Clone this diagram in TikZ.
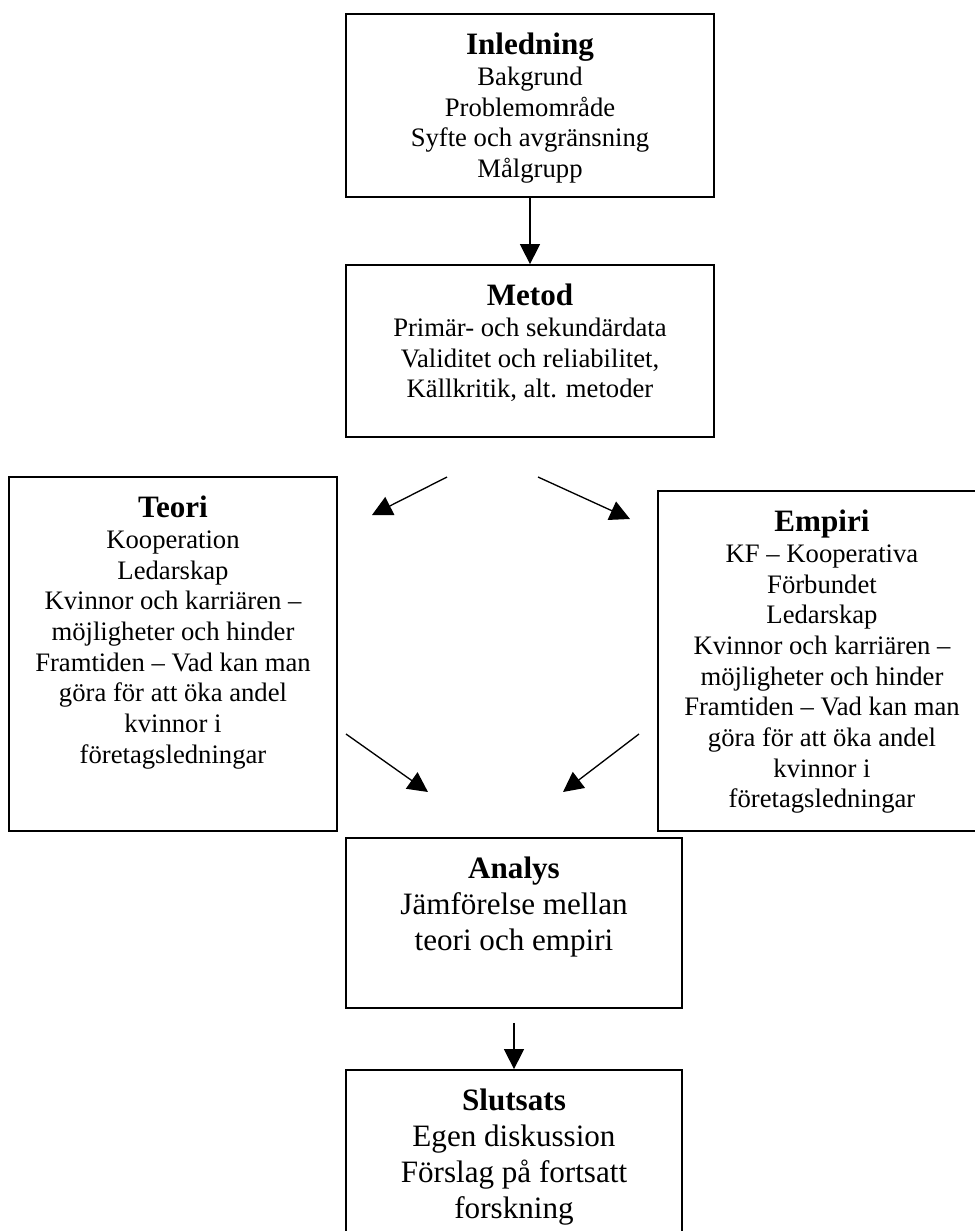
\documentclass[tikz,border=0pt]{standalone}
\usepackage{fontspec}
\setmainfont{Liberation Serif}
\usetikzlibrary{arrows.meta, positioning}

\begin{document}
\begin{tikzpicture}[
    x=0.45pt, y=-0.45pt,
    box/.style={draw, line width=0.8pt},
    txt/.style={align=center, inner sep=0pt, font=\fontsize{12}{13.8}\selectfont},
    bigtxt/.style={align=center, inner sep=0pt, font=\fontsize{14}{16.1}\selectfont},
    arrow/.style={-{Triangle[length=9pt, width=9pt]}, line width=0.6pt}
]
    \useasboundingbox (0,0) rectangle (975,1231);

    % boxes
    \node[box, minimum width=165.6pt, minimum height=82.35pt] (inl) at (530,105.5) {};
    \node[box, minimum width=165.6pt, minimum height=77.4pt] (met) at (530,351) {};
    \node[box, minimum width=147.6pt, minimum height=159.3pt] (teo) at (173,654) {};
    \node[box, minimum width=147.6pt, minimum height=153pt] (emp) at (822,661) {};
    \node[box, minimum width=151.2pt, minimum height=76.5pt] (ana) at (514,923) {};
    \node[box, minimum width=151.2pt, minimum height=85.5pt] (slu) at (514,1165) {};

    % texts
    \node[txt, below=8.8pt of inl.north] (inltext) {\textbf{\fontsize{14}{13.8}\selectfont Inledning}\\Bakgrund\\Problemområde\\Syfte och avgränsning\\Målgrupp};
    \node[txt, below=8.8pt of met.north] (mettext) {\textbf{\fontsize{14}{13.8}\selectfont Metod}\\Primär- och sekundärdata\\Validitet och reliabilitet,\\Källkritik, alt. metoder};
    \node[txt, below=8.8pt of teo.north] (teotext) {\textbf{\fontsize{14}{13.8}\selectfont Teori}\\Kooperation\\Ledarskap\\Kvinnor och karriären --\\möjligheter och hinder\\Framtiden -- Vad kan man\\göra för att öka andel\\kvinnor i\\företagsledningar};
    \node[txt, below=8.8pt of emp.north] (emptext) {\textbf{\fontsize{14}{13.8}\selectfont Empiri}\\KF -- Kooperativa\\Förbundet\\Ledarskap\\Kvinnor och karriären --\\möjligheter och hinder\\Framtiden -- Vad kan man\\göra för att öka andel\\kvinnor i\\företagsledningar};
    \node[bigtxt, below=8.8pt of ana.north] (anatext) {\textbf{Analys}\\Jämförelse mellan\\teori och empiri};
    \node[bigtxt, below=8.8pt of slu.north] (slutext) {\textbf{Slutsats}\\Egen diskussion\\Förslag på fortsatt\\forskning};

    % free arrow ends
    \coordinate (metL) at (447,477);
    \coordinate (teoIn) at (372,515);
    \coordinate (metR) at (538,477);
    \coordinate (empIn) at (630,519);
    \coordinate (teoOut) at (346,734);
    \coordinate (anaL) at (428,792);
    \coordinate (empOut) at (639,734);
    \coordinate (anaR) at (563,792);

    % arrows
    \draw[arrow] (inl) -- (met);
    \draw[arrow] (metL) -- (teoIn);
    \draw[arrow] (metR) -- (empIn);
    \draw[arrow] (teoOut) -- (anaL);
    \draw[arrow] (empOut) -- (anaR);
    \draw[arrow] ([yshift=-6.3pt]ana.south) -- (slu.north);
\end{tikzpicture}
\end{document}
